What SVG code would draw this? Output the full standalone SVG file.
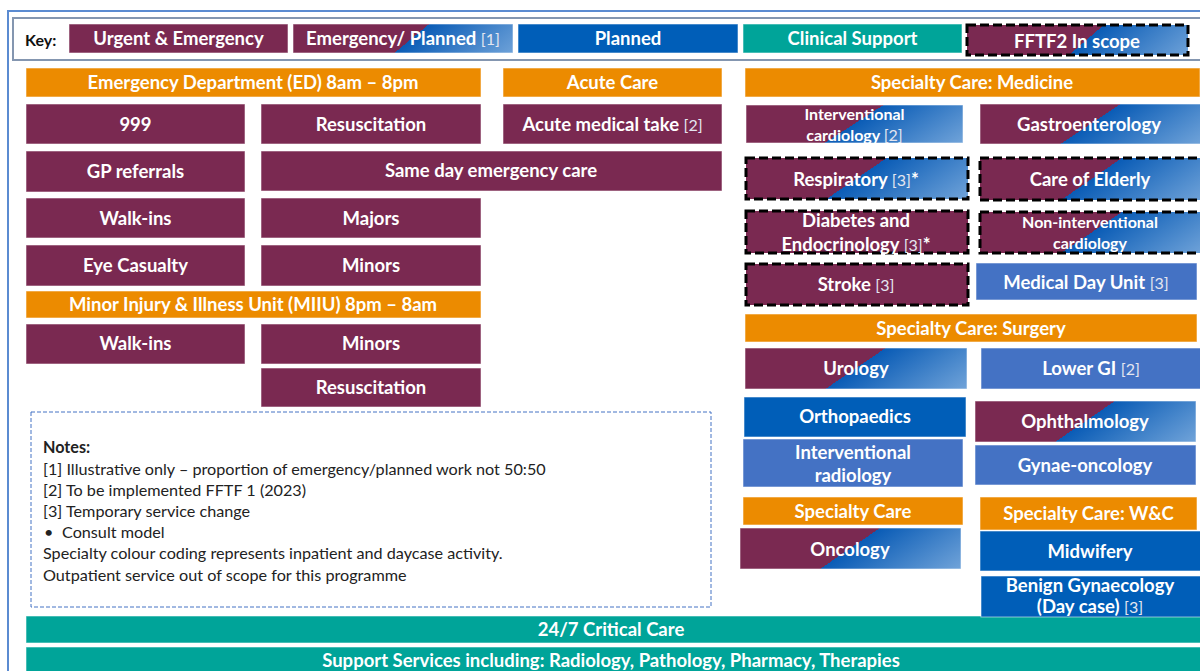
<svg xmlns="http://www.w3.org/2000/svg" width="1200" height="671" viewBox="0 0 1200 671">
  <defs>
    <!-- split fill: urgent/emergency on the left, planned on the right -->
    <linearGradient id="mix" x1="0" y1="0" x2="1.18" y2="0.32">
      <stop offset="0" stop-color="#7A2951"/>
      <stop offset="0.5" stop-color="#7A2951"/>
      <stop offset="0.5" stop-color="#0A5CB6"/>
      <stop offset="1" stop-color="#70A3D9"/>
    </linearGradient>
    <linearGradient id="mixk" x1="0" y1="0" x2="1.14" y2="0.18">
      <stop offset="0" stop-color="#7A2951"/>
      <stop offset="0.53" stop-color="#7A2951"/>
      <stop offset="0.53" stop-color="#0A5CB6"/>
      <stop offset="1" stop-color="#70A3D9"/>
    </linearGradient>
    <style>
      .m { fill: #7A2951; }
      .b { fill: #005EB8; }
      .lb { fill: #4472C4; }
      .t { fill: #00A499; }
      .o { fill: #EC8B00; }
      .g { fill: url(#mix); }
      .gk { fill: url(#mixk); }
      rect.n { stroke: #ffffff; stroke-opacity: 0.55; stroke-width: 1; }
      rect.d { stroke: #000000; stroke-width: 3; stroke-dasharray: 9 4; stroke-opacity: 1; }
      text { font-family: Lato, "Liberation Sans", sans-serif; }
      .l { font-size: 18.5px; font-weight: 700; fill: #ffffff; text-anchor: middle; }
      .s { font-size: 16px; }
      .r { font-weight: 400; font-size: 16px; fill: #E4E6F0; }
      .note { font-size: 16.2px; fill: #222222; }
    </style>
  </defs>

  <rect width="1200" height="671" fill="#ffffff"/>

  <!-- outer frame -->
  <path d="M8 671 V11 H1200" fill="none" stroke="#5B8BD1" stroke-width="2"/>

  <!-- key -->
  <g id="key">
    <rect x="13" y="18" width="1200" height="42" fill="#ffffff" stroke="#8496B0" stroke-width="2"/>
    <text x="25" y="46" font-size="16" font-weight="700" fill="#111">Key:</text>
    <g id="key-urgent">
      <rect class="n m" x="69" y="24" width="219" height="29"/>
      <text class="l" x="178.5" y="45">Urgent &amp; Emergency</text>
    </g>
    <g id="key-mixed">
      <rect class="n gk" x="293" y="24" width="220" height="29"/>
      <text class="l" x="403" y="45">Emergency/ Planned <tspan class="r">[1]</tspan></text>
    </g>
    <g id="key-planned">
      <rect class="n b" x="518" y="24" width="220" height="29"/>
      <text class="l" x="628" y="45">Planned</text>
    </g>
    <g id="key-clinical">
      <rect class="n t" x="743" y="24" width="219" height="29"/>
      <text class="l" x="852.5" y="45">Clinical Support</text>
    </g>
    <g id="key-scope">
      <rect class="n gk d" x="967" y="25" width="221" height="30"/>
      <text class="l" x="1077" y="47.5">FFTF2 In scope</text>
    </g>
  </g>

  <!-- Emergency Department -->
  <g id="ed-header">
    <rect class="n o" x="26" y="68" width="455" height="29"/>
    <text class="l" x="253" y="89">Emergency Department (ED) 8am – 8pm</text>
  </g>
  <g id="ed-999">
    <rect class="n m" x="26" y="104" width="219" height="40"/>
    <text class="l" x="135.5" y="130.5">999</text>
  </g>
  <g id="ed-resus">
    <rect class="n m" x="261" y="104" width="220" height="40"/>
    <text class="l" x="371" y="130.5">Resuscitation</text>
  </g>
  <g id="ed-gp">
    <rect class="n m" x="26" y="151" width="219" height="41"/>
    <text class="l" x="135.5" y="178">GP referrals</text>
  </g>
  <g id="ed-sdec">
    <rect class="n m" x="261" y="151" width="461" height="40"/>
    <text class="l" x="491" y="177">Same day emergency care</text>
  </g>
  <g id="ed-walkins">
    <rect class="n m" x="26" y="198" width="219" height="40"/>
    <text class="l" x="135.5" y="225">Walk-ins</text>
  </g>
  <g id="ed-majors">
    <rect class="n m" x="261" y="198" width="220" height="40"/>
    <text class="l" x="371" y="225">Majors</text>
  </g>
  <g id="ed-eye">
    <rect class="n m" x="26" y="245" width="219" height="41"/>
    <text class="l" x="135.5" y="272">Eye Casualty</text>
  </g>
  <g id="ed-minors">
    <rect class="n m" x="261" y="245" width="220" height="41"/>
    <text class="l" x="371" y="272">Minors</text>
  </g>

  <!-- Minor Injury & Illness Unit -->
  <g id="miiu-header">
    <rect class="n o" x="26" y="291" width="455" height="27"/>
    <text class="l" x="253" y="311">Minor Injury &amp; Illness Unit (MIIU) 8pm – 8am</text>
  </g>
  <g id="miiu-walkins">
    <rect class="n m" x="26" y="324" width="219" height="40"/>
    <text class="l" x="135.5" y="350">Walk-ins</text>
  </g>
  <g id="miiu-minors">
    <rect class="n m" x="261" y="324" width="220" height="40"/>
    <text class="l" x="371" y="350">Minors</text>
  </g>
  <g id="miiu-resus">
    <rect class="n m" x="261" y="368" width="220" height="39"/>
    <text class="l" x="371" y="393.5">Resuscitation</text>
  </g>

  <!-- Acute Care -->
  <g id="acute-header">
    <rect class="n o" x="503" y="68" width="219" height="29"/>
    <text class="l" x="612.5" y="89">Acute Care</text>
  </g>
  <g id="acute-take">
    <rect class="n m" x="503" y="104" width="219" height="40"/>
    <text class="l" x="612.5" y="130.5">Acute medical take <tspan class="r">[2]</tspan></text>
  </g>

  <!-- Notes -->
  <g id="notes">
    <rect x="31" y="412" width="680" height="195" fill="none" stroke="#4472C4" stroke-width="1" stroke-dasharray="4 2"/>
    <text class="note" x="43" y="453" font-weight="700" font-size="18.5">Notes:</text>
    <text class="note" x="43" y="475">[1] Illustrative only – proportion of emergency/planned work not 50:50</text>
    <text class="note" x="43" y="496">[2] To be implemented FFTF 1 (2023)</text>
    <text class="note" x="43" y="517">[3] Temporary service change</text>
    <text class="note" x="44" y="538">•</text>
    <text class="note" x="62" y="538">Consult model</text>
    <text class="note" x="43" y="559">Specialty colour coding represents inpatient and daycase activity.</text>
    <text class="note" x="43" y="581">Outpatient service out of scope for this programme</text>
  </g>

  <!-- Specialty Care: Medicine -->
  <g id="med-header">
    <rect class="n o" x="745" y="68" width="455" height="29"/>
    <text class="l" x="972" y="89">Specialty Care: Medicine</text>
  </g>
  <g id="med-intcardio">
    <rect class="n g" x="746" y="105" width="217" height="38"/>
    <text class="l s" x="854.5" y="119.5">Interventional</text>
    <text class="l s" x="854.5" y="140.5">cardiology <tspan class="r" font-size="14.5">[2]</tspan></text>
  </g>
  <g id="med-gastro">
    <rect class="n g" x="980" y="104" width="222" height="40"/>
    <text class="l" x="1089" y="130.5">Gastroenterology</text>
  </g>
  <g id="med-resp">
    <rect class="n g d" x="746" y="158" width="222" height="41"/>
    <text class="l" x="856" y="185.5">Respiratory <tspan class="r">[3]</tspan>*</text>
  </g>
  <g id="med-elderly">
    <rect class="n g d" x="980" y="158" width="224" height="42"/>
    <text class="l" x="1090" y="185.5">Care of Elderly</text>
  </g>
  <g id="med-diabetes">
    <rect class="n m d" x="746" y="211" width="222" height="42"/>
    <text class="l" x="856" y="227">Diabetes and</text>
    <text class="l" x="856" y="251">Endocrinology <tspan class="r">[3]</tspan>*</text>
  </g>
  <g id="med-noncardio">
    <rect class="n g d" x="980" y="212" width="224" height="41"/>
    <text class="l s" x="1090" y="227.5">Non-interventional</text>
    <text class="l s" x="1090" y="248.5">cardiology</text>
  </g>
  <g id="med-stroke">
    <rect class="n m d" x="746" y="264" width="222" height="41"/>
    <text class="l" x="856" y="291">Stroke <tspan class="r">[3]</tspan></text>
  </g>
  <g id="med-dayunit">
    <rect class="n lb" x="976" y="263" width="221" height="37"/>
    <text class="l" x="1086" y="288.5">Medical Day Unit <tspan class="r">[3]</tspan></text>
  </g>

  <!-- Specialty Care: Surgery -->
  <g id="surg-header">
    <rect class="n o" x="745" y="314" width="452" height="28"/>
    <text class="l" x="971" y="334.5">Specialty Care: Surgery</text>
  </g>
  <g id="surg-urology">
    <rect class="n g" x="745" y="348" width="222" height="41"/>
    <text class="l" x="856" y="375">Urology</text>
  </g>
  <g id="surg-lowergi">
    <rect class="n lb" x="981" y="348" width="221" height="41"/>
    <text class="l" x="1091" y="375">Lower GI <tspan class="r">[2]</tspan></text>
  </g>
  <g id="surg-ortho">
    <rect class="n b" x="744" y="397" width="222" height="40"/>
    <text class="l" x="855" y="423">Orthopaedics</text>
  </g>
  <g id="surg-ophth">
    <rect class="n g" x="975" y="401" width="221" height="41"/>
    <text class="l" x="1085" y="428">Ophthalmology</text>
  </g>
  <g id="surg-intrad">
    <rect class="n lb" x="743" y="439" width="220" height="48"/>
    <text class="l" x="853" y="458.5">Interventional</text>
    <text class="l" x="853" y="481.5">radiology</text>
  </g>
  <g id="surg-gynonc">
    <rect class="n lb" x="975" y="445" width="221" height="40"/>
    <text class="l" x="1085" y="471.5">Gynae-oncology</text>
  </g>

  <!-- Specialty Care -->
  <g id="spec-header">
    <rect class="n o" x="743" y="497" width="220" height="28"/>
    <text class="l" x="853" y="517.5">Specialty Care</text>
  </g>
  <g id="spec-oncology">
    <rect class="n g" x="740" y="528" width="221" height="41"/>
    <text class="l" x="850" y="555.5">Oncology</text>
  </g>

  <!-- Specialty Care: W&C -->
  <g id="wc-header">
    <rect class="n o" x="980" y="497" width="217" height="33"/>
    <text class="l" x="1088.5" y="520">Specialty Care: W&amp;C</text>
  </g>
  <g id="wc-midwifery">
    <rect class="n b" x="980" y="531" width="222" height="40"/>
    <text class="l" x="1090" y="557.5">Midwifery</text>
  </g>

  <!-- cross-site services -->
  <g id="critical-care">
    <rect class="n t" x="26" y="616" width="1176" height="27"/>
    <text class="l" x="611" y="636">24/7 Critical Care</text>
  </g>
  <g id="support-services">
    <rect class="n t" x="26" y="647" width="1176" height="30"/>
    <text class="l" x="611" y="666.5">Support Services including: Radiology, Pathology, Pharmacy, Therapies</text>
  </g>

  <g id="wc-gynae">
    <rect class="n b" x="981" y="576" width="221" height="41"/>
    <text class="l" x="1090" y="591.5" font-size="16.5">Benign Gynaecology</text>
    <text class="l" x="1090" y="612.5" font-size="16.5">(Day case) <tspan class="r" font-size="15">[3]</tspan></text>
  </g>
</svg>
